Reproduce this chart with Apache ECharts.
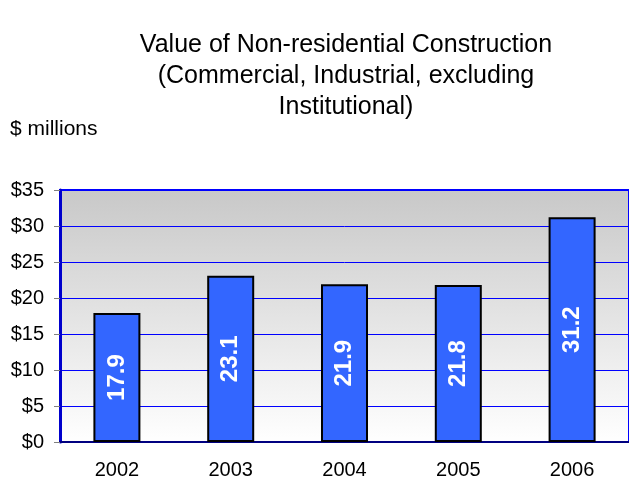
<!DOCTYPE html>
<html>
<head>
<meta charset="utf-8">
<script src="https://cdn.jsdelivr.net/npm/echarts@6/dist/echarts.min.js"></script>
<style>
  html, body { margin: 0; padding: 0; background: #fff; }
  #chart { width: 629px; height: 484px; }
</style>
</head>
<body>
<div id="chart"></div>
<script>
const years = ['2002', '2003', '2004', '2005', '2006']
const values = [17.9, 23.1, 21.9, 21.8, 31.2]
const titleLines = ['Value of Non-residential Construction', '(Commercial, Industrial, excluding', 'Institutional)']
const unitLabel = '$ millions'

const font = '"Liberation Sans", Arial, sans-serif'
const chart = echarts.init(document.getElementById('chart'))

chart.setOption({
  animation: false,
  textStyle: { fontFamily: font },
  graphic: [{
    type: 'text',
    x: 346,
    y: 30,
    style: {
      text: titleLines.join('\n'),
      align: 'center',
      verticalAlign: 'top',
      font: '25px ' + font,
      lineHeight: 31,
      fill: '#000'
    }
  }, {
    type: 'text',
    x: 10,
    y: 119,
    style: {
      text: unitLabel,
      verticalAlign: 'top',
      font: '21px ' + font,
      fill: '#000'
    }
  }],
  grid: {
    left: 60,
    right: -2,
    top: 190,
    bottom: 42,
    show: true,
    borderWidth: 2,
    borderColor: '#0000ff',
    backgroundColor: {
      type: 'linear', x: 0, y: 0, x2: 0, y2: 1,
      colorStops: [
        { offset: 0, color: '#c8c8c8' },
        { offset: 1, color: '#ffffff' }
      ]
    }
  },
  xAxis: {
    type: 'category',
    data: years,
    axisLine: { lineStyle: { color: '#000080', width: 2 } },
    axisTick: { length: 6, lineStyle: { color: '#808080' } },
    axisLabel: { color: '#000', fontSize: 20, margin: 18 }
  },
  yAxis: {
    type: 'value',
    min: 0,
    max: 35,
    interval: 5,
    axisLine: { show: true, lineStyle: { color: '#0000cc', width: 3 } },
    axisTick: { show: true, length: 6, lineStyle: { color: '#808080' } },
    axisLabel: { color: '#000', fontSize: 20, margin: 16, formatter: v => '$' + v },
    splitLine: { lineStyle: { color: '#0000ff', width: 1 } }
  },
  series: [{
    type: 'bar',
    data: values,
    barWidth: 47,
    itemStyle: { color: '#3366ff', borderColor: '#000', borderWidth: 2 },
    label: {
      show: true,
      position: 'inside',
      rotate: 90,
      color: '#fff',
      fontWeight: 'bold',
      fontSize: 24,
      formatter: p => p.value.toFixed(1)
    }
  }]
})
</script>
</body>
</html>
